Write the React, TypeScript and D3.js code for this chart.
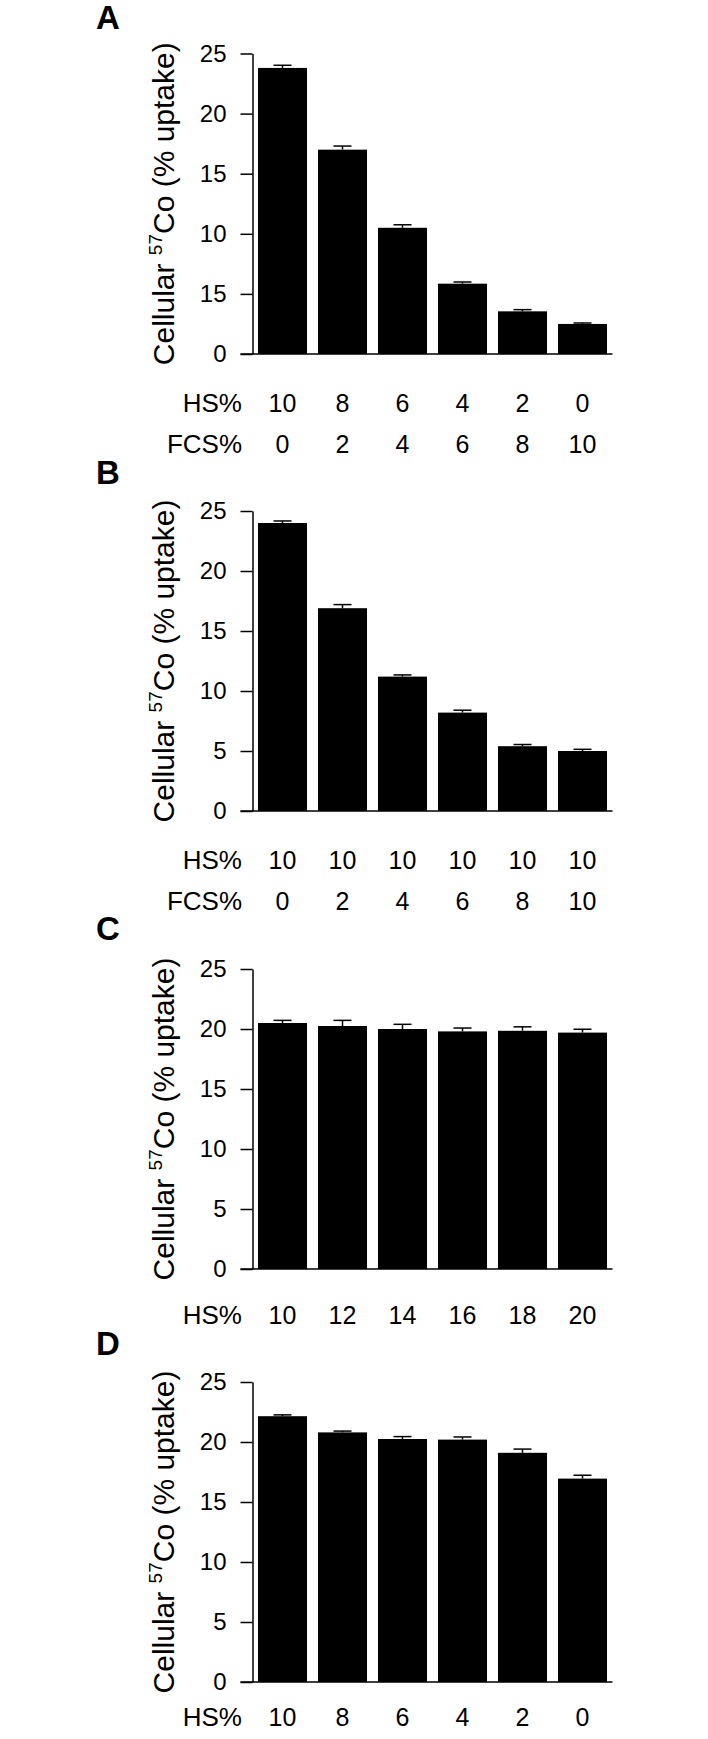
import React, { useEffect, useRef } from 'react';
import * as d3 from 'd3';

// Tick values and labels (panel A has "15" printed at the 5 tick, as in the original)
const tickValues = [0, 5, 10, 15, 20, 25];
const tickLabelsA = ['0', '15', '10', '15', '20', '25'];
const tickLabels = ['0', '5', '10', '15', '20', '25'];

// Panel A
const hsA = ['10', '8', '6', '4', '2', '0'];
const fcsA = ['0', '2', '4', '6', '8', '10'];
const valuesA = [23.8, 17.0, 10.5, 5.85, 3.55, 2.5];
const errorsA = [0.22, 0.3, 0.25, 0.14, 0.14, 0.08];

// Panel B
const hsB = ['10', '10', '10', '10', '10', '10'];
const fcsB = ['0', '2', '4', '6', '8', '10'];
const valuesB = [24.0, 16.9, 11.2, 8.2, 5.4, 5.0];
const errorsB = [0.17, 0.3, 0.14, 0.2, 0.14, 0.14];

// Panel C
const hsC = ['10', '12', '14', '16', '18', '20'];
const valuesC = [20.5, 20.25, 20.0, 19.8, 19.85, 19.7];
const errorsC = [0.22, 0.47, 0.39, 0.28, 0.33, 0.28];

// Panel D
const hsD = ['10', '8', '6', '4', '2', '0'];
const valuesD = [22.15, 20.8, 20.25, 20.2, 19.1, 16.95];
const errorsD = [0.11, 0.11, 0.2, 0.22, 0.31, 0.28];

const FONT = "'Liberation Sans', Arial, Helvetica, sans-serif";

const App = () => {
  const ref = useRef<SVGSVGElement | null>(null);

  useEffect(() => {
    drawChart();
  }, []);

  const drawChart = () => {
    const svg = d3.select(ref.current);
    svg.selectAll('*').remove();

    const panels = [
      { letter: 'A', letterY: 29, top: 53.5, bottom: 354, values: valuesA, errors: errorsA, ticks: tickLabelsA,
        rows: [{ name: 'HS%', labels: hsA, y: 403 }, { name: 'FCS%', labels: fcsA, y: 444 }] },
      { letter: 'B', letterY: 484, top: 511, bottom: 811, values: valuesB, errors: errorsB, ticks: tickLabels,
        rows: [{ name: 'HS%', labels: hsB, y: 860 }, { name: 'FCS%', labels: fcsB, y: 901 }] },
      { letter: 'C', letterY: 940, top: 969, bottom: 1269, values: valuesC, errors: errorsC, ticks: tickLabels,
        rows: [{ name: 'HS%', labels: hsC, y: 1315 }] },
      { letter: 'D', letterY: 1355, top: 1382, bottom: 1682, values: valuesD, errors: errorsD, ticks: tickLabels,
        rows: [{ name: 'HS%', labels: hsD, y: 1717 }] },
    ];

    const axisX = 252.5;
    const idx = d3.range(6).map(String);

    const x = d3.scaleBand()
      .domain(idx)
      .range([axisX, 612.5])
      .paddingInner(0.183)
      .paddingOuter(0.0915);

    panels.forEach(p => {
      const g = svg.append('g');

      const y = d3.scaleLinear()
        .domain([0, 25])
        .range([p.bottom, p.top]);

      // Panel letter
      g.append('text')
        .attr('x', 96)
        .attr('y', p.letterY)
        .attr('font-family', FONT)
        .attr('font-weight', 'bold')
        .attr('font-size', 33)
        .text(p.letter);

      // Bars
      g.selectAll('.bar')
        .data(p.values)
        .enter().append('rect')
        .attr('x', (d, i) => x(String(i)))
        .attr('y', d => y(d))
        .attr('width', x.bandwidth())
        .attr('height', d => y(0) - y(d))
        .attr('fill', '#000');

      // Error bars (upper half)
      const capW = 18;
      p.values.forEach((v, i) => {
        const cx = (x(String(i)) as number) + x.bandwidth() / 2;
        g.append('line')
          .attr('x1', cx).attr('x2', cx)
          .attr('y1', y(v)).attr('y2', y(v + p.errors[i]))
          .attr('stroke', '#000').attr('stroke-width', 1.5);
        g.append('line')
          .attr('x1', cx - capW / 2).attr('x2', cx + capW / 2)
          .attr('y1', y(v + p.errors[i])).attr('y2', y(v + p.errors[i]))
          .attr('stroke', '#000').attr('stroke-width', 1.5);
      });

      // Y axis
      const yAxis = g.append('g')
        .attr('transform', `translate(${axisX}, 0)`)
        .call(d3.axisLeft(y)
          .tickValues(tickValues)
          .tickFormat((d, i) => p.ticks[i])
          .tickSize(12)
          .tickSizeOuter(0)
          .tickPadding(14));
      yAxis.selectAll('path, line').attr('stroke', '#000').attr('stroke-width', 1.5);
      yAxis.selectAll('text')
        .attr('font-family', FONT)
        .attr('font-size', 24)
        .attr('fill', '#000');

      // X axis baseline
      g.append('line')
        .attr('x1', axisX - 12).attr('x2', x.range()[1])
        .attr('y1', y(0)).attr('y2', y(0))
        .attr('stroke', '#000').attr('stroke-width', 1.5);

      // Y axis title
      const title = g.append('text')
        .attr('transform', `translate(174, ${(p.top + p.bottom) / 2}) rotate(-90)`)
        .attr('text-anchor', 'middle')
        .attr('font-family', FONT)
        .attr('font-size', 30);
      title.append('tspan').text('Cellular ');
      title.append('tspan').attr('font-size', 19).attr('dy', -12).text('57');
      title.append('tspan').attr('dy', 12).text('Co (% uptake)');

      // Condition rows under the axis
      p.rows.forEach(row => {
        g.append('text')
          .attr('x', 242)
          .attr('y', row.y + 9)
          .attr('text-anchor', 'end')
          .attr('font-family', FONT)
          .attr('font-size', 26)
          .text(row.name);
        g.selectAll(null)
          .data(row.labels)
          .enter().append('text')
          .attr('x', (d, i) => (x(String(i)) as number) + x.bandwidth() / 2)
          .attr('y', row.y + 9)
          .attr('text-anchor', 'middle')
          .attr('font-family', FONT)
          .attr('font-size', 25)
          .text(d => d);
      });
    });
  };

  return (
    <svg
      ref={ref}
      width={708}
      height={1739}
      style={{ position: 'absolute', left: 0, top: 0, background: '#fff' }}
    />
  );
};

export default App;
